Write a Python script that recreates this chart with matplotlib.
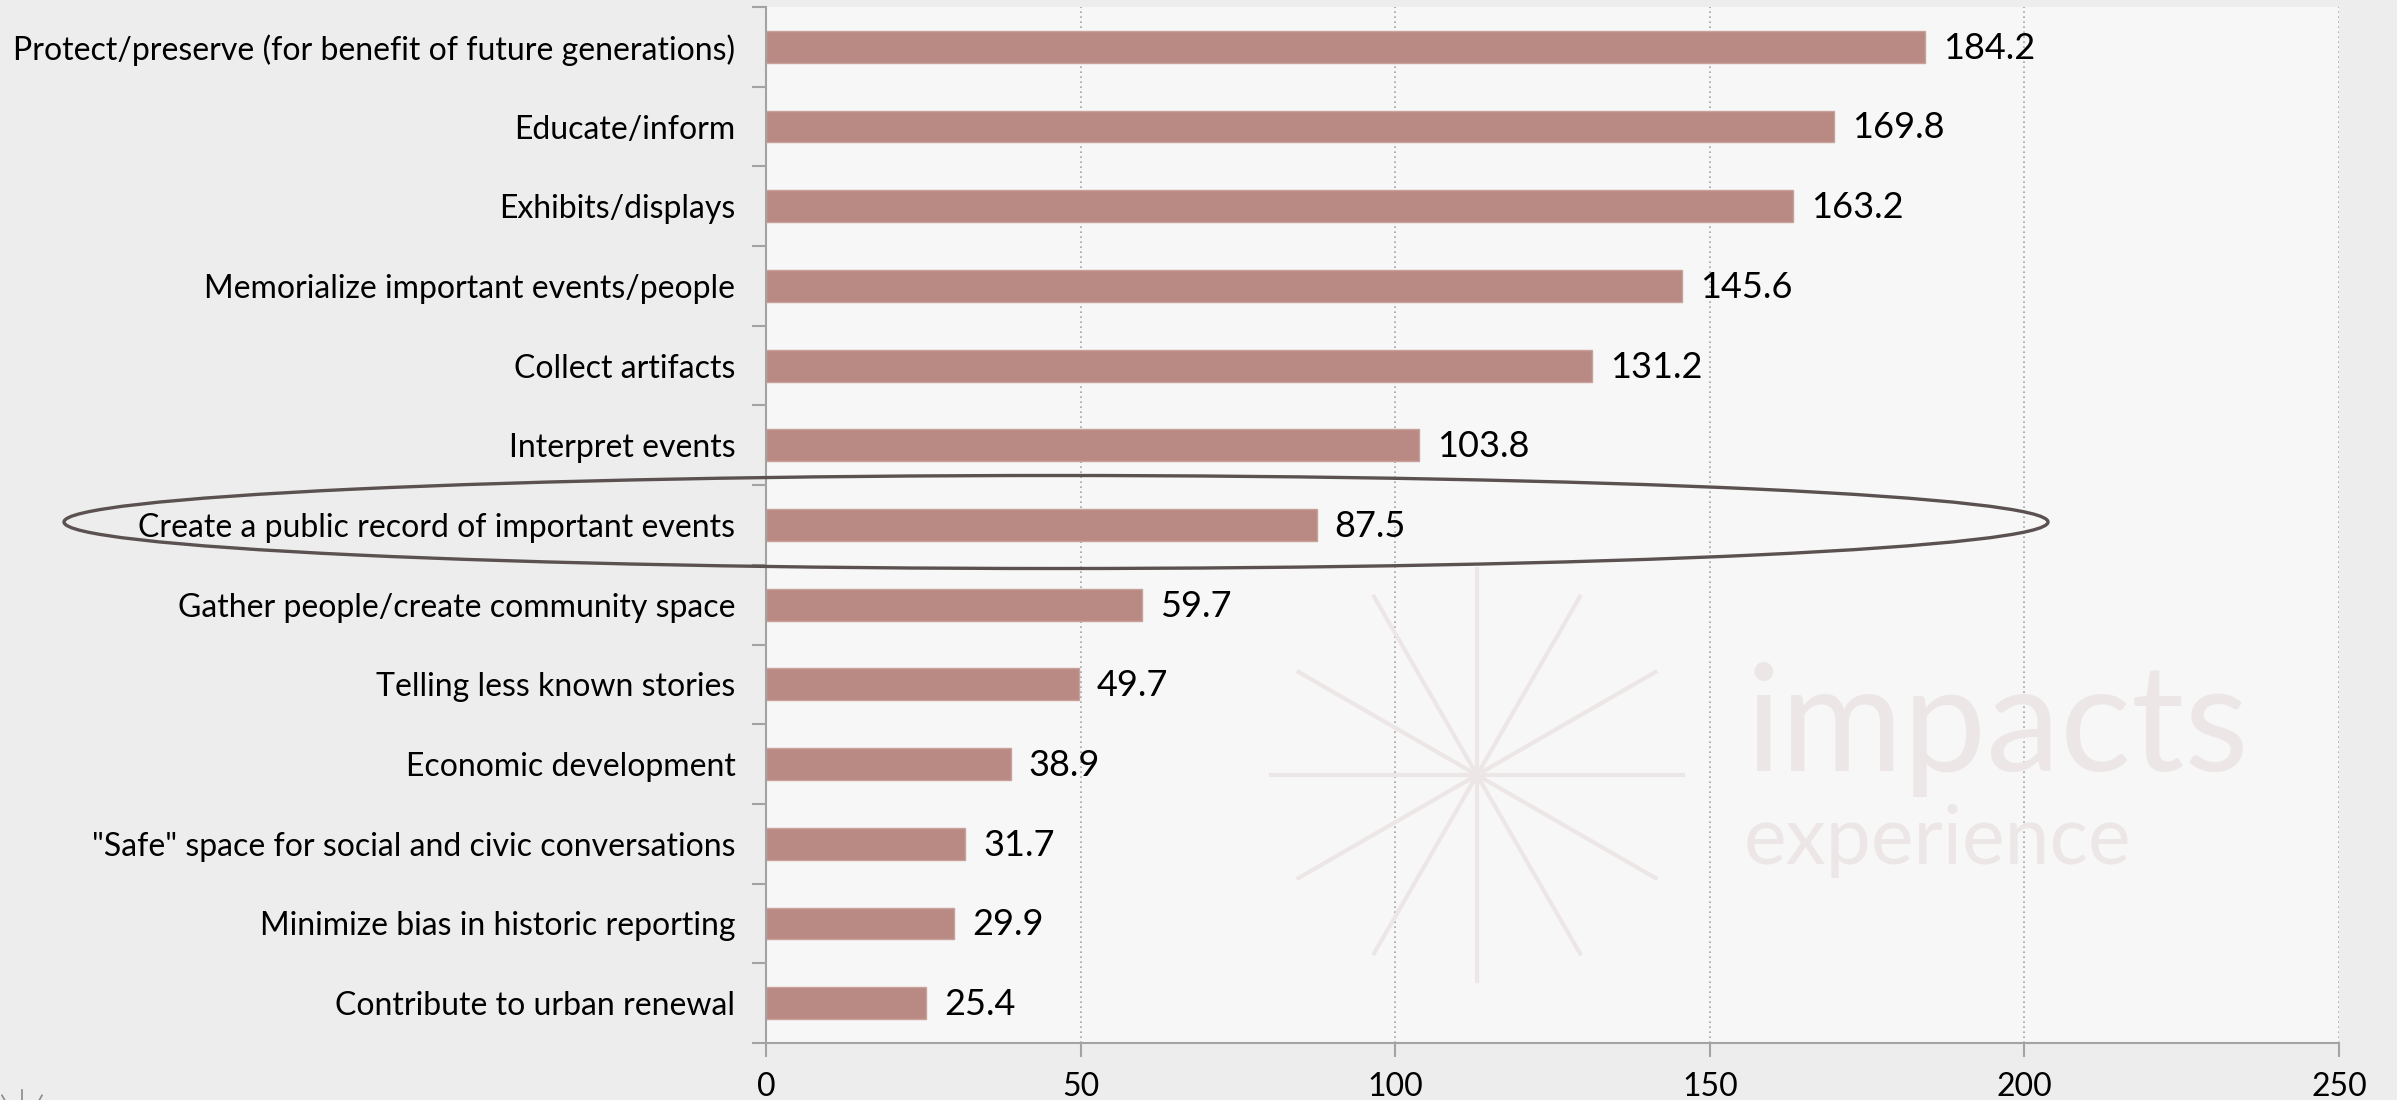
import numpy as np
import matplotlib
matplotlib.use("Agg")
import matplotlib.pyplot as plt
from matplotlib.patches import Ellipse
from matplotlib.lines import Line2D
from matplotlib.ticker import FixedLocator

plt.rcParams['font.family'] = ['Lato', 'DejaVu Sans']

# data (top to bottom)
categories = [
    "Protect/preserve (for benefit of future generations)",
    "Educate/inform",
    "Exhibits/displays",
    "Memorialize important events/people",
    "Collect artifacts",
    "Interpret events",
    "Create a public record of important events",
    "Gather people/create community space",
    "Telling less known stories",
    "Economic development",
    "\"Safe\" space for social and civic conversations",
    "Minimize bias in historic reporting",
    "Contribute to urban renewal",
]
values = [184.2, 169.8, 163.2, 145.6, 131.2, 103.8, 87.5, 59.7, 49.7, 38.9, 31.7, 29.9, 25.4]
xticks = [0, 50, 100, 150, 200, 250]

bar_color = "#B98A83"
fig_bg = "#EDEDED"
ax_bg = "#F7F7F7"
mark_color = "#EDE6E6"
grey = "#A3A3A3"

W, H = 2397, 1100
fig = plt.figure(figsize=(W / 100, H / 100), dpi=100, facecolor=fig_bg)
ax = fig.add_axes([766 / W, 1 - 1043 / H, (2339 - 766) / W, (1043 - 7) / H])
ax.set_facecolor(ax_bg)

# watermark starburst + wordmark (pixel coords)
cx, cy, r = 1477, H - 775, 206
for k in range(6):
    a = np.deg2rad(30 * k)
    fig.add_artist(Line2D([cx - r * np.cos(a), cx + r * np.cos(a)],
                          [cy - r * np.sin(a), cy + r * np.sin(a)],
                          transform=None, color=mark_color, lw=3, zorder=0.5))
fig.text(1746 / W, 1 - 771 / H, "impacts", fontsize=107,
         color=mark_color, ha='left', va='baseline', zorder=0.5)
fig.text(1744 / W, 1 - 864 / H, "experience", fontsize=58,
         color=mark_color, ha='left', va='baseline', zorder=0.5)

# small logo cut at bottom-left corner
for k in range(6):
    a = np.deg2rad(30 * k)
    fig.add_artist(Line2D([22 - 40 * np.cos(a), 22 + 40 * np.cos(a)],
                          [-30 - 40 * np.sin(a), -30 + 40 * np.sin(a)],
                          transform=None, color="#8A8A8A", lw=1.2))

y = np.arange(len(categories))
ax.barh(y, values, height=0.4, color=bar_color, edgecolor="#C9A19B", linewidth=1, zorder=3)
for yi, v in zip(y, values):
    ax.annotate(f"{v:.1f}", (v, yi), xytext=(13, -1), textcoords='offset points',
                va='center', ha='left', fontsize=26, color='black', zorder=4)

ax.set_ylim(len(categories) - 0.5, -0.5)
ax.set_xlim(0, 250)
ax.set_yticks(y)
ax.set_yticklabels(categories, fontsize=23)
ax.yaxis.set_minor_locator(FixedLocator(np.arange(-0.5, len(categories), 1.0)))
ax.tick_params(axis='y', which='major', length=0, pad=22)
ax.tick_params(axis='y', which='minor', length=10, width=1.5, color=grey)
ax.set_xticks(xticks)
ax.tick_params(axis='x', length=10, width=1.5, color=grey, labelsize=23, pad=11)

ax.grid(axis='x', linestyle=(0, (1, 2)), color=grey, linewidth=1.2, zorder=1)
for s in ['top', 'right']:
    ax.spines[s].set_visible(False)
for s in ['left', 'bottom']:
    ax.spines[s].set_color(grey)
    ax.spines[s].set_linewidth(1.5)
    ax.spines[s].set_zorder(5)

# highlight ellipse around the 'public record' row
ell = Ellipse((1056, H - 522), 1984, 93, transform=None, fill=False,
              edgecolor="#5B5151", linewidth=2.4, zorder=10)
fig.add_artist(ell)

fig.savefig("out.png", dpi=100, facecolor=fig_bg)
